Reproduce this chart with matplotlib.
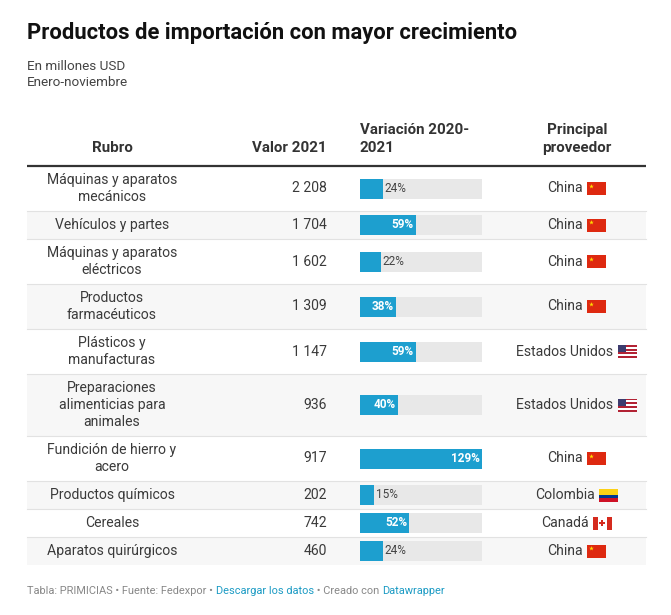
import matplotlib
matplotlib.use('Agg')
import matplotlib.pyplot as plt
from matplotlib.patches import Rectangle

plt.rcParams['font.family'] = ['Roboto', 'DejaVu Sans']

# Data
rubro = ['Máquinas y aparatos\nmecánicos', 'Vehículos y partes', 'Máquinas y aparatos\neléctricos',
         'Productos\nfarmacéuticos', 'Plásticos y\nmanufacturas',
         'Preparaciones\nalimenticias para\nanimales', 'Fundición de hierro y\nacero',
         'Productos químicos', 'Cereales', 'Aparatos quirúrgicos']
valor = [2208, 1704, 1602, 1309, 1147, 936, 917, 202, 742, 460]
variacion = [24, 59, 22, 38, 59, 40, 129, 15, 52, 24]
proveedor = ['China', 'China', 'China', 'China', 'Estados Unidos', 'Estados Unidos',
             'China', 'Colombia', 'Canadá', 'China']

TXT = '#3a3a3a'
BLUE = '#1d9fcf'

fig = plt.figure(figsize=(6.71, 6.15), dpi=100)
ax = fig.add_axes([0, 0, 1, 1])
ax.set_xlim(0, 671)
ax.set_ylim(615, 0)
ax.axis('off')

# Title block
ax.text(27, 33, 'Productos de importación con mayor crecimiento', fontsize=15.8,
        fontweight='bold', color='#111111', va='center')
ax.text(27, 66, 'En millones USD', fontsize=9.7, color='#444444', va='center')
ax.text(27, 82, 'Enero-noviembre', fontsize=9.7, color='#444444', va='center')

# Header
hs = 10.9
ax.text(112, 148, 'Rubro', fontsize=hs, fontweight='bold', color='#333333', ha='center', va='center')
ax.text(327, 148, 'Valor 2021', fontsize=hs, fontweight='bold', color='#333333', ha='right', va='center')
ax.text(360, 130, 'Variación 2020-', fontsize=hs, fontweight='bold', color='#333333', ha='left', va='center')
ax.text(360, 148, '2021', fontsize=hs, fontweight='bold', color='#333333', ha='left', va='center')
ax.text(577, 130, 'Principal', fontsize=hs, fontweight='bold', color='#333333', ha='center', va='center')
ax.text(577, 148, 'proveedor', fontsize=hs, fontweight='bold', color='#333333', ha='center', va='center')
ax.plot([27, 646], [165.5, 165.5], color='#333333', lw=1.6, solid_capstyle='butt')

renderer = fig.canvas.get_renderer()


def draw_flag(name, x, yc):
    w, h = 19, 13
    y0 = yc - h / 2
    if name == 'China':
        ax.add_patch(Rectangle((x, y0), w, h, color='#de2910', lw=0))
        ax.plot(x + 4, y0 + 3.5, marker='*', color='#ffde00', ms=3.5, mew=0)
    elif name == 'Estados Unidos':
        for i in range(7):
            c = '#b22234' if i % 2 == 0 else 'white'
            ax.add_patch(Rectangle((x, y0 + i * h / 7), w, h / 7 + 0.05, color=c, lw=0))
        ax.add_patch(Rectangle((x, y0), w * 0.45, h * 4 / 7, color='#3c3b6e', lw=0))
    elif name == 'Colombia':
        ax.add_patch(Rectangle((x, y0), w, h / 2, color='#fcd116', lw=0))
        ax.add_patch(Rectangle((x, y0 + h / 2), w, h / 4, color='#003893', lw=0))
        ax.add_patch(Rectangle((x, y0 + 3 * h / 4), w, h / 4, color='#ce1126', lw=0))
    elif name == 'Canadá':
        ax.add_patch(Rectangle((x, y0), w, h, color='white', lw=0))
        ax.add_patch(Rectangle((x, y0), w / 4, h, color='#d52b1e', lw=0))
        ax.add_patch(Rectangle((x + 3 * w / 4, y0), w / 4, h, color='#d52b1e', lw=0))
        ax.plot(x + w / 2, yc, marker='P', color='#d52b1e', ms=4.5, mew=0)


# Rows
bx0, bx1 = 360, 482
vmax = max(variacion)
fs = 10.1
y = 166
for i in range(len(rubro)):
    nl = rubro[i].count('\n') + 1
    hgt = 11 + 17 * nl
    yc = y + hgt / 2
    if i % 2 == 1:
        ax.add_patch(Rectangle((27, y), 619, hgt, color='#f7f7f7', lw=0, zorder=0))
    if i > 0:
        ax.plot([27, 646], [y, y], color='#e2e2e2', lw=0.8, zorder=1)
    ax.text(112, yc, rubro[i], fontsize=fs, color=TXT, ha='center', va='center',
            linespacing=1.25)
    ax.text(327, yc, f'{valor[i]:,}'.replace(',', ' '), fontsize=fs, color=TXT,
            ha='right', va='center')
    # bar
    ax.add_patch(Rectangle((bx0, yc - 10), bx1 - bx0, 20, color='#e8e8e8', lw=0, zorder=2))
    bw = variacion[i] / vmax * (bx1 - bx0)
    ax.add_patch(Rectangle((bx0, yc - 10), bw, 20, color=BLUE, lw=0, zorder=3))
    if variacion[i] >= 30:
        ax.text(bx0 + bw - 2, yc, f'{variacion[i]}%', fontsize=8.5, fontweight='bold',
                color='white', ha='right', va='center', zorder=4)
    else:
        ax.text(bx0 + bw + 2, yc, f'{variacion[i]}%', fontsize=8.5, color='#444444',
                ha='left', va='center', zorder=4)
    # provider + flag
    t = ax.text(565, yc, proveedor[i], fontsize=fs, color=TXT, ha='center', va='center')
    bb = t.get_window_extent(renderer)
    draw_flag(proveedor[i], bb.x1 + 4, yc)
    y += hgt

# Footer
fy = 591
parts = [('Tabla: PRIMICIAS • Fuente: Fedexpor • ', '#888888'),
         ('Descargar los datos', '#1c9bc4'),
         (' • Creado con ', '#888888'),
         ('Datawrapper', '#1c9bc4')]
x = 27
for s, c in parts:
    t = ax.text(x, fy, s, fontsize=7.9, color=c, ha='left', va='center')
    bb = t.get_window_extent(renderer)
    x += bb.width

fig.savefig('out.png', dpi=100)
